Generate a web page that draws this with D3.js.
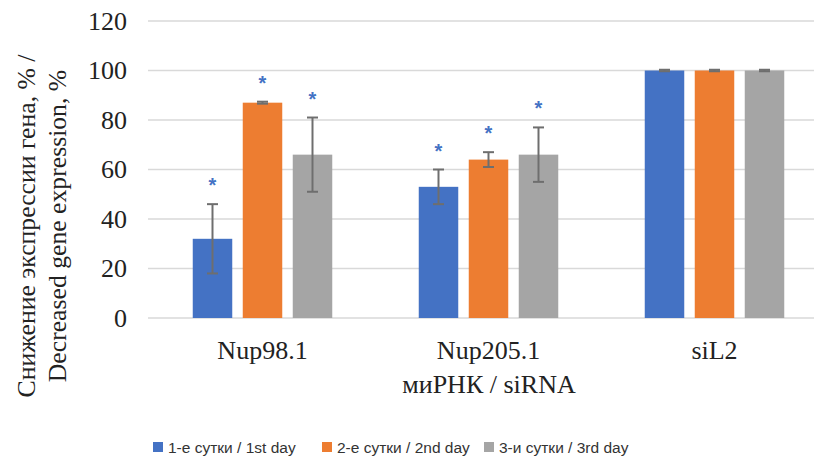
<!DOCTYPE html>
<html>
<head>
<meta charset="utf-8">
<script src="https://cdn.jsdelivr.net/npm/d3@7"></script>
<style>
  body { margin: 0; background: #fff; }
  svg { display: block; }
  .serif { font-family: "Liberation Serif", LiberationSerif, "Times New Roman", Times, "DejaVu Serif", "Noto Serif", FreeSerif, Georgia, serif; }
  .sans { font-family: "Liberation Sans", Arial, sans-serif; }
</style>
</head>
<body>
<script>
const categories = ["Nup98.1", "Nup205.1", "siL2"];
const series = ["1-е сутки / 1st day", "2-е сутки / 2nd day", "3-и сутки / 3rd day"];
const day1 = [32, 53, 100];
const day2 = [87, 64, 100];
const day3 = [66, 66, 100];
const err1 = [14, 7, 0.3];
const err2 = [0.4, 3, 0.3];
const err3 = [15, 11, 0.3];
const signif = [[true, true, true], [true, true, true], [false, false, false]];
const yTicks = [0, 20, 40, 60, 80, 100, 120];

const colors = ["#4472C4", "#ED7D31", "#A5A5A5"];
const width = 814, height = 458;

const values = [day1, day2, day3];
const errs = [err1, err2, err3];
const rows = [];
categories.forEach((c, i) => series.forEach((s, j) => rows.push({
  cat: c, ser: s, j, v: values[j][i], e: errs[j][i], star: signif[i][j]
})));

const svg = d3.select("body").append("svg")
    .attr("width", width)
    .attr("height", height);

const y = d3.scaleLinear().domain([0, 120]).range([318, 21]);
const x0 = d3.scaleBand().domain(categories).range([149.5, 827.5]);
const x1 = d3.scaleBand().domain(series).range([-75, 75])
    .paddingInner(0.21).paddingOuter(0.105);
const cx = d => x0(d.cat) + x0.bandwidth() / 2 + x1(d.ser);

// grid
svg.append("g")
  .selectAll("line")
  .data(yTicks)
  .join("line")
    .attr("x1", 148).attr("x2", width)
    .attr("y1", d => y(d)).attr("y2", d => y(d))
    .attr("stroke", "#D9D9D9")
    .attr("stroke-width", 1.3);

// y tick labels
svg.append("g")
    .attr("class", "serif")
    .attr("font-size", 26)
    .attr("fill", "#222")
    .attr("text-anchor", "end")
  .selectAll("text")
  .data(yTicks)
  .join("text")
    .attr("x", 127)
    .attr("y", d => y(d))
    .attr("dy", "0.34em")
    .text(d => d);

// bars
svg.append("g")
  .selectAll("rect")
  .data(rows)
  .join("rect")
    .attr("x", cx)
    .attr("y", d => y(d.v))
    .attr("width", x1.bandwidth())
    .attr("height", d => y(0) - y(d.v))
    .attr("fill", d => colors[d.j]);

// error bars
const eb = svg.append("g")
    .attr("stroke", "#6E6E6E")
    .attr("stroke-width", 2)
  .selectAll("g")
  .data(rows)
  .join("g")
    .attr("transform", d => `translate(${cx(d) + x1.bandwidth() / 2},0)`);
eb.append("line")
    .attr("y1", d => y(d.v + d.e)).attr("y2", d => y(d.v - d.e));
eb.append("line")
    .attr("x1", -5.5).attr("x2", 5.5)
    .attr("y1", d => y(d.v + d.e)).attr("y2", d => y(d.v + d.e));
eb.append("line")
    .attr("x1", -5.5).attr("x2", 5.5)
    .attr("y1", d => y(d.v - d.e)).attr("y2", d => y(d.v - d.e));

// asterisks
svg.append("g")
    .attr("class", "sans")
    .attr("font-size", 20)
    .attr("font-weight", "bold")
    .attr("fill", "#4472C4")
    .attr("text-anchor", "middle")
  .selectAll("text")
  .data(rows.filter(d => d.star))
  .join("text")
    .attr("x", d => cx(d) + x1.bandwidth() / 2)
    .attr("y", d => y(d.v + d.e) - 12)
    .text("*");

// category labels
svg.append("g")
    .attr("class", "serif")
    .attr("font-size", 26)
    .attr("fill", "#222")
    .attr("text-anchor", "middle")
  .selectAll("text")
  .data(categories)
  .join("text")
    .attr("x", d => x0(d) + x0.bandwidth() / 2)
    .attr("y", 359)
    .text(d => d);

// axis titles
svg.append("text")
    .attr("class", "serif")
    .attr("font-size", 26)
    .attr("fill", "#222")
    .attr("text-anchor", "middle")
    .attr("x", 489)
    .attr("y", 393)
    .text("миРНК / siRNA");

const yt = svg.append("text")
    .attr("class", "serif")
    .attr("font-size", 25.7)
    .attr("fill", "#222")
    .attr("text-anchor", "middle")
    .attr("transform", "translate(35,226) rotate(-90)");
yt.append("tspan").attr("x", 0).attr("y", 0).text("Снижение экспрессии гена, % /");
yt.append("tspan").attr("x", 0).attr("y", 31).text("Decreased gene expression, %");

// legend
const legendX = [153, 322, 484];
const lg = svg.append("g")
  .selectAll("g")
  .data(series)
  .join("g")
    .attr("transform", (d, i) => `translate(${legendX[i]},442)`);
lg.append("rect")
    .attr("width", 10).attr("height", 10)
    .attr("fill", (d, i) => colors[i]);
lg.append("text")
    .attr("class", "sans")
    .attr("x", 15)
    .attr("y", 11)
    .attr("font-size", 15.5)
    .attr("fill", "#333")
    .text(d => d);
</script>
</body>
</html>
